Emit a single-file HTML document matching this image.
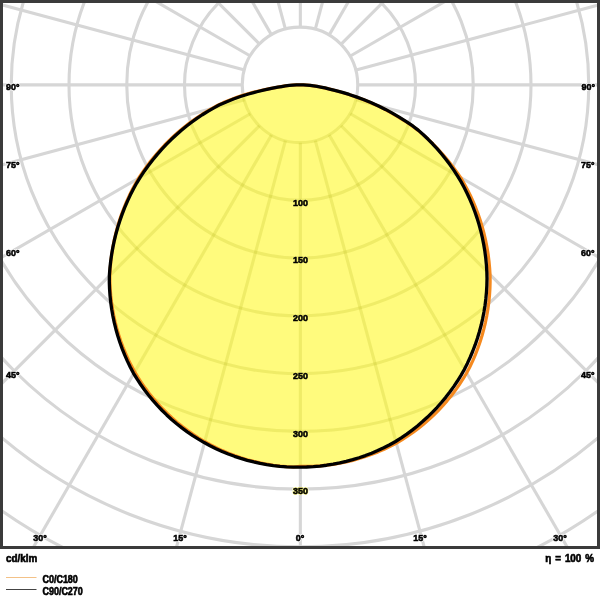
<!DOCTYPE html>
<html><head><meta charset="utf-8"><style>
html,body{margin:0;padding:0;background:#fff;width:600px;height:600px;overflow:hidden}
svg{display:block;will-change:transform}
text{stroke:#000;stroke-width:0.6px;font-family:"Liberation Sans",sans-serif;font-weight:bold;font-size:9.8px;fill:#000}
.halo text{fill:#fff;stroke:#fff;stroke-width:2.2px}
.halo2 text{fill:#fffb7d;stroke:#fffb7d;stroke-width:1.6px}
</style></head><body>
<svg width="600" height="600" viewBox="0 0 600 600">
<defs><clipPath id="c"><rect x="3" y="3" width="594" height="543"/></clipPath><clipPath id="f"><path d="M300.00,84.90 L303.36,84.96 L306.75,85.14 L310.19,85.43 L313.65,85.85 L317.15,86.40 L320.66,87.07 L324.96,87.97 L329.50,89.05 L335.76,90.56 L342.37,92.37 L349.12,94.45 L356.29,96.86 L363.42,99.54 L370.81,102.56 L378.50,105.93 L385.47,109.41 L392.33,113.13 L399.14,117.11 L405.92,121.37 L412.76,125.94 L418.49,130.38 L423.38,134.75 L428.14,139.29 L432.78,144.02 L437.27,148.91 L441.62,153.97 L445.83,159.20 L449.87,164.59 L453.76,170.13 L457.47,175.82 L461.00,181.64 L464.18,187.49 L467.16,193.46 L469.96,199.54 L472.55,205.72 L474.94,212.00 L477.13,218.37 L479.10,224.83 L480.87,231.36 L482.41,237.96 L483.74,244.62 L484.85,251.34 L485.74,258.10 L486.40,264.90 L486.83,271.73 L487.01,278.55 L486.85,285.28 L486.47,291.99 L485.85,298.70 L485.01,305.39 L483.94,312.05 L482.65,318.68 L481.13,325.26 L479.38,331.79 L477.41,338.27 L475.22,344.68 L472.81,351.01 L470.19,357.26 L467.35,363.42 L464.31,369.49 L460.99,375.33 L457.45,381.03 L453.73,386.60 L449.81,392.05 L445.70,397.35 L441.41,402.51 L436.95,407.52 L432.31,412.38 L427.51,417.07 L422.55,421.59 L417.43,425.94 L412.17,430.11 L406.76,434.10 L401.22,437.89 L395.55,441.50 L389.72,444.73 L383.77,447.76 L377.73,450.58 L371.59,453.18 L365.36,455.58 L359.05,457.75 L352.67,459.70 L346.23,461.42 L339.73,462.92 L333.18,464.20 L326.60,465.24 L319.98,466.05 L313.33,466.63 L306.67,466.98 L300.00,467.10 L293.33,467.06 L286.66,466.79 L280.01,466.28 L273.38,465.54 L266.78,464.58 L260.22,463.38 L253.70,461.95 L247.24,460.30 L240.84,458.42 L234.51,456.32 L228.26,454.00 L222.09,451.46 L216.01,448.70 L210.03,445.74 L204.16,442.57 L198.41,439.19 L192.77,435.62 L187.27,431.85 L181.90,427.89 L176.67,423.74 L171.59,419.41 L166.67,414.91 L161.90,410.24 L157.30,405.40 L152.88,400.41 L148.63,395.26 L144.56,389.96 L140.68,384.53 L137.00,378.96 L133.51,373.27 L130.35,367.25 L127.40,361.12 L124.66,354.90 L122.14,348.60 L119.83,342.21 L117.75,335.74 L115.90,329.21 L114.27,322.63 L112.86,315.99 L111.69,309.32 L110.75,302.61 L110.04,295.87 L109.56,289.12 L109.32,282.36 L109.36,275.54 L109.88,268.49 L110.64,261.48 L111.62,254.52 L112.83,247.61 L114.26,240.76 L115.91,233.97 L117.78,227.26 L119.87,220.64 L122.17,214.10 L124.67,207.67 L127.38,201.33 L130.29,195.11 L133.40,189.00 L136.69,183.02 L140.35,177.07 L144.30,171.20 L148.42,165.50 L152.69,159.96 L157.10,154.60 L161.66,149.41 L166.35,144.40 L171.17,139.58 L176.12,134.95 L181.17,130.51 L186.33,126.27 L191.59,122.23 L196.94,118.39 L202.37,114.75 L207.88,111.31 L213.46,108.09 L219.10,105.07 L226.18,101.94 L233.42,99.05 L240.45,96.48 L248.50,93.98 L256.81,91.74 L264.48,89.89 L271.47,88.40 L277.75,87.24 L281.64,86.51 L285.46,85.92 L289.21,85.47 L292.89,85.15 L296.49,84.96 L300.00,84.90Z"/></clipPath></defs>
<rect x="0" y="0" width="600" height="600" fill="#fff"/>
<g clip-path="url(#c)">
<g fill="none" stroke="#d6d6d6" stroke-width="3.1">
<circle cx="300.0" cy="84.9" r="57.75"/>
<circle cx="300.0" cy="84.9" r="115.50"/>
<circle cx="300.0" cy="84.9" r="173.25"/>
<circle cx="300.0" cy="84.9" r="231.00"/>
<circle cx="300.0" cy="84.9" r="288.75"/>
<circle cx="300.0" cy="84.9" r="346.50"/>
<circle cx="300.0" cy="84.9" r="404.25"/>
<circle cx="300.0" cy="84.9" r="462.00"/>
<circle cx="300.0" cy="84.9" r="519.75"/>
<circle cx="300.0" cy="84.9" r="577.50"/>
<line x1="300.35" y1="142.65" x2="300.35" y2="884.90"/>
<line x1="315.30" y1="140.68" x2="507.41" y2="857.64"/>
<line x1="329.23" y1="134.91" x2="700.35" y2="777.72"/>
<line x1="341.19" y1="125.74" x2="866.04" y2="650.59"/>
<line x1="350.36" y1="113.78" x2="993.17" y2="484.90"/>
<line x1="356.13" y1="99.85" x2="1073.09" y2="291.96"/>
<line x1="358.10" y1="84.90" x2="1100.35" y2="84.90"/>
<line x1="356.13" y1="69.95" x2="1073.09" y2="-122.16"/>
<line x1="350.36" y1="56.03" x2="993.17" y2="-315.10"/>
<line x1="341.19" y1="44.06" x2="866.04" y2="-480.79"/>
<line x1="329.23" y1="34.89" x2="700.35" y2="-607.92"/>
<line x1="315.30" y1="29.12" x2="507.41" y2="-687.84"/>
<line x1="300.35" y1="27.15" x2="300.35" y2="-715.10"/>
<line x1="285.40" y1="29.12" x2="93.29" y2="-687.84"/>
<line x1="271.48" y1="34.89" x2="-99.65" y2="-607.92"/>
<line x1="259.51" y1="44.06" x2="-265.34" y2="-480.79"/>
<line x1="250.34" y1="56.02" x2="-392.47" y2="-315.10"/>
<line x1="244.57" y1="69.95" x2="-472.39" y2="-122.16"/>
<line x1="242.60" y1="84.90" x2="-499.65" y2="84.90"/>
<line x1="244.57" y1="99.85" x2="-472.39" y2="291.96"/>
<line x1="250.34" y1="113.78" x2="-392.47" y2="484.90"/>
<line x1="259.51" y1="125.74" x2="-265.34" y2="650.59"/>
<line x1="271.48" y1="134.91" x2="-99.65" y2="777.72"/>
<line x1="285.40" y1="140.68" x2="93.29" y2="857.64"/>
</g>
<g class="halo">
<text transform="translate(6,90.2) scale(0.91,1)" text-anchor="start">90°</text>
<text transform="translate(595,90.2) scale(0.91,1)" text-anchor="end">90°</text>
<text transform="translate(6,167.5) scale(0.91,1)" text-anchor="start">75°</text>
<text transform="translate(594.5,167.5) scale(0.91,1)" text-anchor="end">75°</text>
<text transform="translate(6,256.2) scale(0.91,1)" text-anchor="start">60°</text>
<text transform="translate(594.5,256.2) scale(0.91,1)" text-anchor="end">60°</text>
<text transform="translate(6,378.2) scale(0.91,1)" text-anchor="start">45°</text>
<text transform="translate(594.5,378.2) scale(0.91,1)" text-anchor="end">45°</text>
<text transform="translate(40,540.8) scale(0.91,1)" text-anchor="middle">30°</text>
<text transform="translate(180,540.8) scale(0.91,1)" text-anchor="middle">15°</text>
<text transform="translate(300,540.8) scale(0.91,1)" text-anchor="middle">0°</text>
<text transform="translate(420,540.8) scale(0.91,1)" text-anchor="middle">15°</text>
<text transform="translate(560,540.8) scale(0.91,1)" text-anchor="middle">30°</text>
<text transform="translate(300.5,205.70) scale(0.91,1)" text-anchor="middle">100</text>
<text transform="translate(300.5,263.45) scale(0.91,1)" text-anchor="middle">150</text>
<text transform="translate(300.5,321.20) scale(0.91,1)" text-anchor="middle">200</text>
<text transform="translate(300.5,378.95) scale(0.91,1)" text-anchor="middle">250</text>
<text transform="translate(300.5,436.70) scale(0.91,1)" text-anchor="middle">300</text>
<text transform="translate(300.5,494.45) scale(0.91,1)" text-anchor="middle">350</text>
</g>
<path d="M300.00,84.90 L303.36,84.96 L306.75,85.14 L310.19,85.43 L313.65,85.85 L317.15,86.40 L320.66,87.07 L324.96,87.97 L329.50,89.05 L335.76,90.56 L342.37,92.37 L349.12,94.45 L356.29,96.86 L363.42,99.54 L370.81,102.56 L378.50,105.93 L385.47,109.41 L392.33,113.13 L399.14,117.11 L405.92,121.37 L412.76,125.94 L418.49,130.38 L423.38,134.75 L428.14,139.29 L432.78,144.02 L437.27,148.91 L441.62,153.97 L445.83,159.20 L449.87,164.59 L453.76,170.13 L457.47,175.82 L461.00,181.64 L464.18,187.49 L467.16,193.46 L469.96,199.54 L472.55,205.72 L474.94,212.00 L477.13,218.37 L479.10,224.83 L480.87,231.36 L482.41,237.96 L483.74,244.62 L484.85,251.34 L485.74,258.10 L486.40,264.90 L486.83,271.73 L487.01,278.55 L486.85,285.28 L486.47,291.99 L485.85,298.70 L485.01,305.39 L483.94,312.05 L482.65,318.68 L481.13,325.26 L479.38,331.79 L477.41,338.27 L475.22,344.68 L472.81,351.01 L470.19,357.26 L467.35,363.42 L464.31,369.49 L460.99,375.33 L457.45,381.03 L453.73,386.60 L449.81,392.05 L445.70,397.35 L441.41,402.51 L436.95,407.52 L432.31,412.38 L427.51,417.07 L422.55,421.59 L417.43,425.94 L412.17,430.11 L406.76,434.10 L401.22,437.89 L395.55,441.50 L389.72,444.73 L383.77,447.76 L377.73,450.58 L371.59,453.18 L365.36,455.58 L359.05,457.75 L352.67,459.70 L346.23,461.42 L339.73,462.92 L333.18,464.20 L326.60,465.24 L319.98,466.05 L313.33,466.63 L306.67,466.98 L300.00,467.10 L293.33,467.06 L286.66,466.79 L280.01,466.28 L273.38,465.54 L266.78,464.58 L260.22,463.38 L253.70,461.95 L247.24,460.30 L240.84,458.42 L234.51,456.32 L228.26,454.00 L222.09,451.46 L216.01,448.70 L210.03,445.74 L204.16,442.57 L198.41,439.19 L192.77,435.62 L187.27,431.85 L181.90,427.89 L176.67,423.74 L171.59,419.41 L166.67,414.91 L161.90,410.24 L157.30,405.40 L152.88,400.41 L148.63,395.26 L144.56,389.96 L140.68,384.53 L137.00,378.96 L133.51,373.27 L130.35,367.25 L127.40,361.12 L124.66,354.90 L122.14,348.60 L119.83,342.21 L117.75,335.74 L115.90,329.21 L114.27,322.63 L112.86,315.99 L111.69,309.32 L110.75,302.61 L110.04,295.87 L109.56,289.12 L109.32,282.36 L109.36,275.54 L109.88,268.49 L110.64,261.48 L111.62,254.52 L112.83,247.61 L114.26,240.76 L115.91,233.97 L117.78,227.26 L119.87,220.64 L122.17,214.10 L124.67,207.67 L127.38,201.33 L130.29,195.11 L133.40,189.00 L136.69,183.02 L140.35,177.07 L144.30,171.20 L148.42,165.50 L152.69,159.96 L157.10,154.60 L161.66,149.41 L166.35,144.40 L171.17,139.58 L176.12,134.95 L181.17,130.51 L186.33,126.27 L191.59,122.23 L196.94,118.39 L202.37,114.75 L207.88,111.31 L213.46,108.09 L219.10,105.07 L226.18,101.94 L233.42,99.05 L240.45,96.48 L248.50,93.98 L256.81,91.74 L264.48,89.89 L271.47,88.40 L277.75,87.24 L281.64,86.51 L285.46,85.92 L289.21,85.47 L292.89,85.15 L296.49,84.96 L300.00,84.90Z" fill="#fffb7d" stroke="none"/>
<g clip-path="url(#f)" fill="none" stroke="rgb(182,182,29)" stroke-opacity="0.22" stroke-width="3.1">
<circle cx="300.0" cy="84.9" r="57.75"/>
<circle cx="300.0" cy="84.9" r="115.50"/>
<circle cx="300.0" cy="84.9" r="173.25"/>
<circle cx="300.0" cy="84.9" r="231.00"/>
<circle cx="300.0" cy="84.9" r="288.75"/>
<circle cx="300.0" cy="84.9" r="346.50"/>
<circle cx="300.0" cy="84.9" r="404.25"/>
<circle cx="300.0" cy="84.9" r="462.00"/>
<circle cx="300.0" cy="84.9" r="519.75"/>
<circle cx="300.0" cy="84.9" r="577.50"/>
<line x1="300.35" y1="142.65" x2="300.35" y2="884.90"/>
<line x1="315.30" y1="140.68" x2="507.41" y2="857.64"/>
<line x1="329.23" y1="134.91" x2="700.35" y2="777.72"/>
<line x1="341.19" y1="125.74" x2="866.04" y2="650.59"/>
<line x1="350.36" y1="113.78" x2="993.17" y2="484.90"/>
<line x1="356.13" y1="99.85" x2="1073.09" y2="291.96"/>
<line x1="358.10" y1="84.90" x2="1100.35" y2="84.90"/>
<line x1="356.13" y1="69.95" x2="1073.09" y2="-122.16"/>
<line x1="350.36" y1="56.03" x2="993.17" y2="-315.10"/>
<line x1="341.19" y1="44.06" x2="866.04" y2="-480.79"/>
<line x1="329.23" y1="34.89" x2="700.35" y2="-607.92"/>
<line x1="315.30" y1="29.12" x2="507.41" y2="-687.84"/>
<line x1="300.35" y1="27.15" x2="300.35" y2="-715.10"/>
<line x1="285.40" y1="29.12" x2="93.29" y2="-687.84"/>
<line x1="271.48" y1="34.89" x2="-99.65" y2="-607.92"/>
<line x1="259.51" y1="44.06" x2="-265.34" y2="-480.79"/>
<line x1="250.34" y1="56.02" x2="-392.47" y2="-315.10"/>
<line x1="244.57" y1="69.95" x2="-472.39" y2="-122.16"/>
<line x1="242.60" y1="84.90" x2="-499.65" y2="84.90"/>
<line x1="244.57" y1="99.85" x2="-472.39" y2="291.96"/>
<line x1="250.34" y1="113.78" x2="-392.47" y2="484.90"/>
<line x1="259.51" y1="125.74" x2="-265.34" y2="650.59"/>
<line x1="271.48" y1="134.91" x2="-99.65" y2="777.72"/>
<line x1="285.40" y1="140.68" x2="93.29" y2="857.64"/>
</g>
<g class="halo2">
<text transform="translate(300.5,205.70) scale(0.91,1)" text-anchor="middle">100</text>
<text transform="translate(300.5,263.45) scale(0.91,1)" text-anchor="middle">150</text>
<text transform="translate(300.5,321.20) scale(0.91,1)" text-anchor="middle">200</text>
<text transform="translate(300.5,378.95) scale(0.91,1)" text-anchor="middle">250</text>
<text transform="translate(300.5,436.70) scale(0.91,1)" text-anchor="middle">300</text>
<text transform="translate(300.5,494.45) scale(0.91,1)" text-anchor="middle">350</text>
</g>
<path d="M300.00,84.90 L303.28,84.96 L306.60,85.13 L309.94,85.42 L313.30,85.83 L316.68,86.36 L320.06,87.01 L324.27,87.88 L328.71,88.93 L334.95,90.44 L341.52,92.22 L348.19,94.27 L355.28,96.65 L362.40,99.31 L369.81,102.31 L377.52,105.67 L384.46,109.12 L391.26,112.80 L398.08,116.77 L404.93,121.03 L411.85,125.61 L417.81,130.12 L423.04,134.61 L428.17,139.30 L433.19,144.20 L438.10,149.30 L442.90,154.60 L447.56,160.09 L452.09,165.77 L456.47,171.63 L460.70,177.68 L464.10,183.50 L467.32,189.45 L470.34,195.52 L473.16,201.70 L475.78,207.98 L478.19,214.36 L480.39,220.83 L482.37,227.39 L484.14,234.02 L485.69,240.71 L487.02,247.47 L488.12,254.28 L488.99,261.14 L489.64,268.03 L490.05,274.95 L490.13,281.79 L489.93,288.58 L489.50,295.36 L488.84,302.13 L487.94,308.88 L486.81,315.60 L485.46,322.28 L483.87,328.91 L482.06,335.49 L480.03,342.00 L477.77,348.45 L475.29,354.82 L472.59,361.10 L469.68,367.29 L466.49,373.26 L463.02,378.99 L459.35,384.60 L455.50,390.08 L451.45,395.42 L447.22,400.61 L442.81,405.65 L438.22,410.54 L433.47,415.26 L428.56,419.81 L423.49,424.19 L418.27,428.39 L412.91,432.40 L407.41,436.22 L401.78,439.85 L396.03,443.28 L390.12,446.36 L384.11,449.24 L378.01,451.89 L371.81,454.34 L365.53,456.56 L359.18,458.57 L352.77,460.35 L346.29,461.90 L339.76,463.23 L333.20,464.32 L326.59,465.19 L319.96,465.82 L313.32,466.23 L306.66,466.40 L300.00,466.34 L293.33,466.98 L286.67,466.63 L280.02,466.05 L273.40,465.24 L266.82,464.20 L260.27,462.92 L253.77,461.42 L247.33,459.70 L240.95,457.75 L234.64,455.58 L228.41,453.18 L222.27,450.58 L216.23,447.76 L210.28,444.73 L204.45,441.50 L198.73,438.06 L193.14,434.43 L187.67,430.60 L182.35,426.59 L177.16,422.39 L172.13,418.01 L167.25,413.47 L162.53,408.75 L157.99,403.87 L153.61,398.84 L149.41,393.65 L145.40,388.33 L141.57,382.86 L137.94,377.27 L134.50,371.55 L131.32,365.62 L128.35,359.59 L125.60,353.46 L123.05,347.24 L120.72,340.93 L118.62,334.55 L116.73,328.11 L115.07,321.60 L113.64,315.04 L112.43,308.44 L111.45,301.80 L110.71,295.13 L110.19,288.44 L109.91,281.75 L109.86,275.04 L110.24,268.15 L110.85,261.28 L111.70,254.45 L112.77,247.66 L114.06,240.92 L115.58,234.24 L117.32,227.62 L119.28,221.08 L121.45,214.62 L123.84,208.25 L126.43,201.97 L129.23,195.80 L132.23,189.74 L135.42,183.79 L138.81,177.97 L142.69,172.10 L146.75,166.39 L150.96,160.84 L155.33,155.46 L159.85,150.25 L164.52,145.22 L169.32,140.37 L174.24,135.71 L179.29,131.24 L184.45,126.96 L189.72,122.87 L195.09,118.99 L200.55,115.31 L206.09,111.83 L211.71,108.56 L217.40,105.49 L223.45,102.57 L230.59,99.65 L237.57,97.04 L244.36,94.71 L253.06,92.33 L261.90,90.25 L269.87,88.60 L276.96,87.32 L281.09,86.55 L285.11,85.94 L289.01,85.48 L292.80,85.15 L296.47,84.96 L300.00,84.90Z" fill="none" stroke="#f5891e" stroke-width="3.2" stroke-linejoin="round"/>
<path d="M300.00,84.90 L303.36,84.96 L306.75,85.14 L310.19,85.43 L313.65,85.85 L317.15,86.40 L320.66,87.07 L324.96,87.97 L329.50,89.05 L335.76,90.56 L342.37,92.37 L349.12,94.45 L356.29,96.86 L363.42,99.54 L370.81,102.56 L378.50,105.93 L385.47,109.41 L392.33,113.13 L399.14,117.11 L405.92,121.37 L412.76,125.94 L418.49,130.38 L423.38,134.75 L428.14,139.29 L432.78,144.02 L437.27,148.91 L441.62,153.97 L445.83,159.20 L449.87,164.59 L453.76,170.13 L457.47,175.82 L461.00,181.64 L464.18,187.49 L467.16,193.46 L469.96,199.54 L472.55,205.72 L474.94,212.00 L477.13,218.37 L479.10,224.83 L480.87,231.36 L482.41,237.96 L483.74,244.62 L484.85,251.34 L485.74,258.10 L486.40,264.90 L486.83,271.73 L487.01,278.55 L486.85,285.28 L486.47,291.99 L485.85,298.70 L485.01,305.39 L483.94,312.05 L482.65,318.68 L481.13,325.26 L479.38,331.79 L477.41,338.27 L475.22,344.68 L472.81,351.01 L470.19,357.26 L467.35,363.42 L464.31,369.49 L460.99,375.33 L457.45,381.03 L453.73,386.60 L449.81,392.05 L445.70,397.35 L441.41,402.51 L436.95,407.52 L432.31,412.38 L427.51,417.07 L422.55,421.59 L417.43,425.94 L412.17,430.11 L406.76,434.10 L401.22,437.89 L395.55,441.50 L389.72,444.73 L383.77,447.76 L377.73,450.58 L371.59,453.18 L365.36,455.58 L359.05,457.75 L352.67,459.70 L346.23,461.42 L339.73,462.92 L333.18,464.20 L326.60,465.24 L319.98,466.05 L313.33,466.63 L306.67,466.98 L300.00,467.10 L293.33,467.06 L286.66,466.79 L280.01,466.28 L273.38,465.54 L266.78,464.58 L260.22,463.38 L253.70,461.95 L247.24,460.30 L240.84,458.42 L234.51,456.32 L228.26,454.00 L222.09,451.46 L216.01,448.70 L210.03,445.74 L204.16,442.57 L198.41,439.19 L192.77,435.62 L187.27,431.85 L181.90,427.89 L176.67,423.74 L171.59,419.41 L166.67,414.91 L161.90,410.24 L157.30,405.40 L152.88,400.41 L148.63,395.26 L144.56,389.96 L140.68,384.53 L137.00,378.96 L133.51,373.27 L130.35,367.25 L127.40,361.12 L124.66,354.90 L122.14,348.60 L119.83,342.21 L117.75,335.74 L115.90,329.21 L114.27,322.63 L112.86,315.99 L111.69,309.32 L110.75,302.61 L110.04,295.87 L109.56,289.12 L109.32,282.36 L109.36,275.54 L109.88,268.49 L110.64,261.48 L111.62,254.52 L112.83,247.61 L114.26,240.76 L115.91,233.97 L117.78,227.26 L119.87,220.64 L122.17,214.10 L124.67,207.67 L127.38,201.33 L130.29,195.11 L133.40,189.00 L136.69,183.02 L140.35,177.07 L144.30,171.20 L148.42,165.50 L152.69,159.96 L157.10,154.60 L161.66,149.41 L166.35,144.40 L171.17,139.58 L176.12,134.95 L181.17,130.51 L186.33,126.27 L191.59,122.23 L196.94,118.39 L202.37,114.75 L207.88,111.31 L213.46,108.09 L219.10,105.07 L226.18,101.94 L233.42,99.05 L240.45,96.48 L248.50,93.98 L256.81,91.74 L264.48,89.89 L271.47,88.40 L277.75,87.24 L281.64,86.51 L285.46,85.92 L289.21,85.47 L292.89,85.15 L296.49,84.96 L300.00,84.90Z" fill="none" stroke="#000" stroke-width="3.3" stroke-linejoin="round"/>
<g class="ink">
<text transform="translate(6,90.2) scale(0.91,1)" text-anchor="start">90°</text>
<text transform="translate(595,90.2) scale(0.91,1)" text-anchor="end">90°</text>
<text transform="translate(6,167.5) scale(0.91,1)" text-anchor="start">75°</text>
<text transform="translate(594.5,167.5) scale(0.91,1)" text-anchor="end">75°</text>
<text transform="translate(6,256.2) scale(0.91,1)" text-anchor="start">60°</text>
<text transform="translate(594.5,256.2) scale(0.91,1)" text-anchor="end">60°</text>
<text transform="translate(6,378.2) scale(0.91,1)" text-anchor="start">45°</text>
<text transform="translate(594.5,378.2) scale(0.91,1)" text-anchor="end">45°</text>
<text transform="translate(40,540.8) scale(0.91,1)" text-anchor="middle">30°</text>
<text transform="translate(180,540.8) scale(0.91,1)" text-anchor="middle">15°</text>
<text transform="translate(300,540.8) scale(0.91,1)" text-anchor="middle">0°</text>
<text transform="translate(420,540.8) scale(0.91,1)" text-anchor="middle">15°</text>
<text transform="translate(560,540.8) scale(0.91,1)" text-anchor="middle">30°</text>
<text transform="translate(300.5,205.70) scale(0.91,1)" text-anchor="middle">100</text>
<text transform="translate(300.5,263.45) scale(0.91,1)" text-anchor="middle">150</text>
<text transform="translate(300.5,321.20) scale(0.91,1)" text-anchor="middle">200</text>
<text transform="translate(300.5,378.95) scale(0.91,1)" text-anchor="middle">250</text>
<text transform="translate(300.5,436.70) scale(0.91,1)" text-anchor="middle">300</text>
<text transform="translate(300.5,494.45) scale(0.91,1)" text-anchor="middle">350</text>
</g>
</g>
<rect x="1.5" y="1.5" width="597" height="546" fill="none" stroke="#3b3b3b" stroke-width="3"/>
<text transform="translate(6,562) scale(0.95,1)" text-anchor="start" style="font-size:10.4px">cd/klm</text>
<g style="word-spacing:1.2px"><text transform="translate(594,562) scale(0.95,1)" text-anchor="end" style="font-size:10.4px">η = 100 %</text></g>
<line x1="6" y1="577.5" x2="36.5" y2="577.5" stroke="#f3c187" stroke-width="1"/>
<line x1="6" y1="589.5" x2="36.5" y2="589.5" stroke="#444" stroke-width="1"/>
<text transform="translate(42.5,582.7) scale(0.87,1)" text-anchor="start" style="font-size:10.3px">C0/C180</text>
<text transform="translate(42.5,594.7) scale(0.87,1)" text-anchor="start" style="font-size:10.3px">C90/C270</text>
</svg>
</body></html>
